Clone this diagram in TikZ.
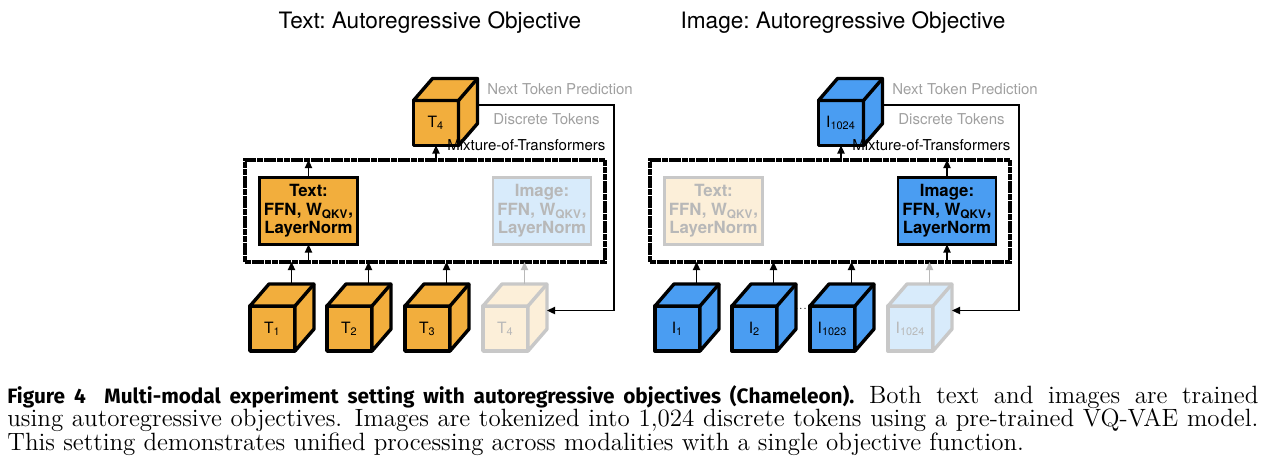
\documentclass[tikz,border=0pt]{standalone}
\usepackage{fontspec}
\setsansfont{TeX Gyre Heros}
\newfontfamily\capfont{Fira Sans}
\usetikzlibrary{arrows.meta,calc}
\definecolor{tokorange}{HTML}{F2AE3D}
\definecolor{tokblue}{HTML}{4A9DF2}
\definecolor{fadeorange}{HTML}{FCEFD9}
\definecolor{fadeblue}{HTML}{D8EBFB}
\definecolor{fadeline}{HTML}{C8C8C8}
\definecolor{fadetext}{HTML}{B8B8B8}
\definecolor{notegray}{HTML}{A0A0A0}
\tikzset{
	cubeface/.style={draw,line width=1.7pt,line join=round,minimum size=22.5pt,
		inner sep=0pt,outer sep=0pt,font=\sffamily\fontsize{7.8}{9}\selectfont},
	arr/.style={-{Triangle[length=4pt,width=3.6pt]},line width=0.8pt},
	modbox/.style={draw,line width=1.7pt,dash pattern=on 3pt off 0.35pt,
		minimum width=180pt,minimum height=51pt,inner sep=0pt,outer sep=0pt},
	expert/.style={draw,line width=1.4pt,minimum width=49pt,minimum height=33.5pt,
		inner sep=0pt,outer sep=0pt,align=center,
		font=\sffamily\bfseries\fontsize{8.4}{9.3}\selectfont},
	note/.style={anchor=west,inner sep=0pt,font=\sffamily\fontsize{7.5}{9}\selectfont},
	paneltitle/.style={font=\sffamily\fontsize{11.3}{13}\selectfont\frenchspacing},
}
% token cube: name, front centre, fill, line, text colour, label
\newcommand{\tokcube}[6]{%
	\node[cubeface,fill=#3,draw=#4,text=#5] (#1) at (#2) {#6};
	\filldraw[fill=#3,draw=#4,line width=1.7pt,line join=round]
		(#1.north west) -- ++(19,-22) -- ($(#1.north east)+(19,-22)$)
		-- ($(#1.south east)+(19,-22)$) -- (#1.south east) -- (#1.north east) -- cycle;
	\draw[#4,line width=1.7pt,line cap=round] (#1.north east) -- ++(19,-22);
	\coordinate (#1-top) at ($(#1.north)+(19,-22)$);
	\coordinate (#1-side) at ($(#1.east)+(19,-18)$);
}
\begin{document}
\begin{tikzpicture}[x=0.5pt,y=-0.5pt]
	\useasboundingbox (0,0) rectangle (1263,473);
	% text panel
	\node[paneltitle] (titleL) at (430,23) {Text: Autoregressive Objective};
	\node[modbox] (boxL) at (425,211) {};
	\node[expert,fill=tokorange] (exL) at (308.5,211) {Text:\\FFN, W\textsubscript{QKV},\\LayerNorm};
	\node[expert,fill=fadeblue,draw=fadeline,text=fadetext] (imL) at (542,211) {Image:\\FFN, W\textsubscript{QKV},\\LayerNorm};
	\draw[arr] (exL.north) -- (exL.north |- boxL.north);
	\draw[arr] (exL.south |- boxL.south) -- (exL.south);
	\tokcube{tL}{436,123}{tokorange}{black}{black}{T\textsubscript{4}}
	\draw[arr] (boxL.north -| tL) -- (tL.south);
	\node[note] (mixL) at (447,145) {Mixture-of-Transformers};
	\node[note,text=notegray] (nextL) at (487,89) {Next Token Prediction};
	\node[note,text=notegray] (discL) at (493,119) {Discrete Tokens};
	\foreach \i/\x in {1/272.5,2/349.5,3/427.5}{
		\tokcube{t\i}{\x,328.5}{tokorange}{black}{black}{T\textsubscript{\i}}
		\draw[arr] (t\i-top) -- (t\i-top |- boxL.south);
	}
	\tokcube{t4}{505.5,328.5}{fadeorange}{fadeline}{fadetext}{T\textsubscript{4}}
	\draw[arr,fadeline!80!gray] (t4-top) -- (t4-top |- boxL.south);
	\coordinate (loopL) at (614,200);
	\draw[arr] (tL-side) -| (loopL) |- (t4-side);
	% image panel
	\node[paneltitle] (titleR) at (843,23) {Image: Autoregressive Objective};
	\node[modbox] (boxR) at (830,211) {};
	\node[expert,fill=fadeorange,draw=fadeline,text=fadetext] (exR) at (713.5,211) {Text:\\FFN, W\textsubscript{QKV},\\LayerNorm};
	\node[expert,fill=tokblue] (imR) at (947,211) {Image:\\FFN, W\textsubscript{QKV},\\LayerNorm};
	\draw[arr] (imR.north) -- (imR.north |- boxR.north);
	\draw[arr] (imR.south |- boxR.south) -- (imR.south);
	\tokcube{iR}{841,123}{tokblue}{black}{black}{I\textsubscript{1024}}
	\draw[arr] (boxR.north -| iR) -- (iR.south);
	\node[note] (mixR) at (852,145) {Mixture-of-Transformers};
	\node[note,text=notegray] (nextR) at (892,89) {Next Token Prediction};
	\node[note,text=notegray] (discR) at (898,119) {Discrete Tokens};
	\foreach \i/\x in {1/677.5,2/754.5,1023/832.5}{
		\tokcube{i\i}{\x,328.5}{tokblue}{black}{black}{I\textsubscript{\i}}
		\draw[arr] (i\i-top) -- (i\i-top |- boxR.south);
	}
	\node[inner sep=0pt,font=\fontsize{5}{6}\selectfont] (dots) at (801,309) {...};
	\tokcube{i1024}{910.5,328.5}{fadeblue}{fadeline}{fadetext}{I\textsubscript{1024}}
	\draw[arr,fadeline!80!gray] (i1024-top) -- (i1024-top |- boxR.south);
	\coordinate (loopR) at (1019,200);
	\draw[arr] (iR-side) -| (loopR) |- (i1024-side);
	% caption
	\node[anchor=north west,text width=625.5pt,align=justify,inner sep=0pt,
		font=\fontsize{12.5}{11.8}\selectfont] (cap) at (7,385)
		{{\capfont\bfseries\fontsize{10.4}{12}\selectfont Figure 4\hspace{0.9em}Multi-modal experiment setting with autoregressive objectives (Chameleon).}\ Both text and images are trained\linebreak
		using autoregressive objectives. Images are tokenized into 1,024 discrete tokens using a pre-trained VQ-VAE model.\linebreak
		This setting demonstrates unified processing across modalities with a single objective function.};
\end{tikzpicture}
\end{document}
